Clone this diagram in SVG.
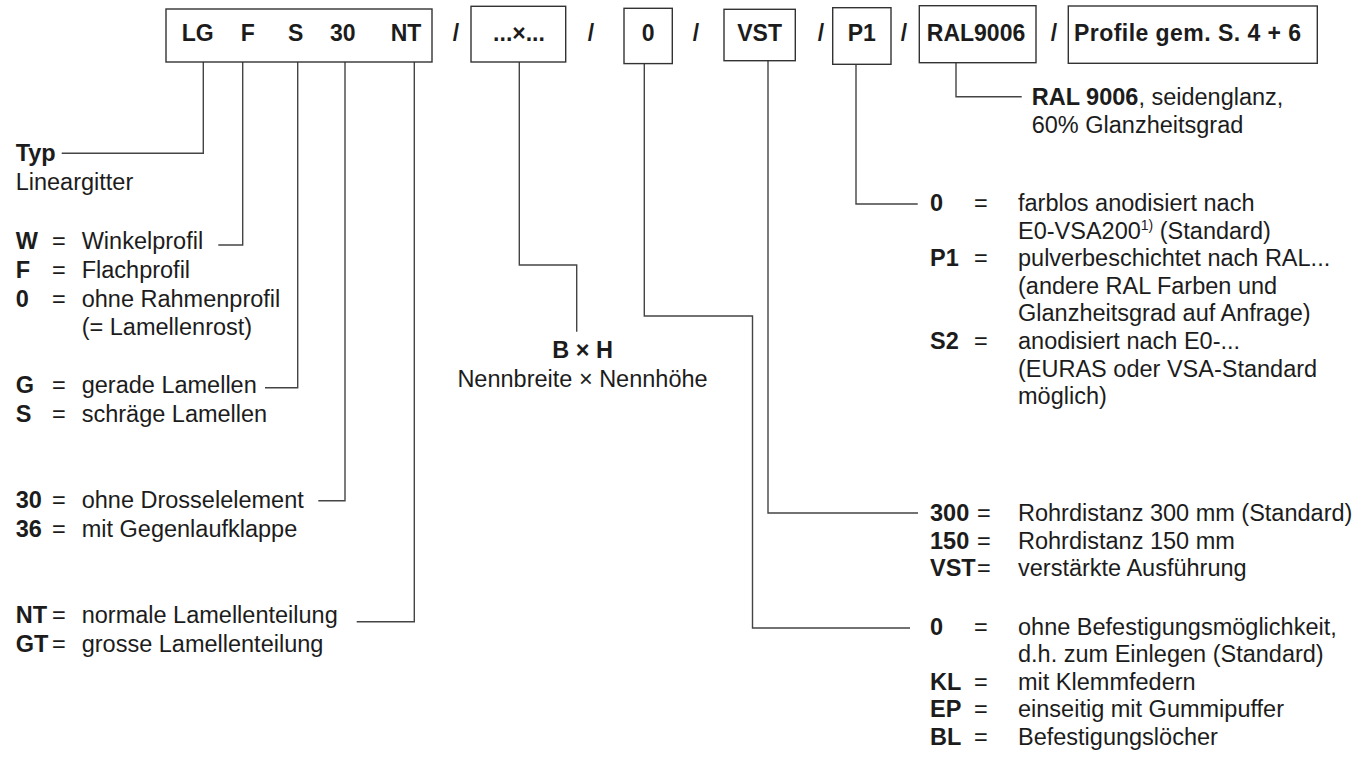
<svg xmlns="http://www.w3.org/2000/svg" width="1371" height="758" viewBox="0 0 1371 758">
<style>
text{font-family:"Liberation Sans",Arial,Helvetica,sans-serif;fill:#1c1c1c;font-size:23.5px}
.b{font-weight:bold}
.bx{font-weight:bold;font-size:23px}
.m{text-anchor:middle}
.box{fill:#fff;stroke:#333;stroke-width:1.4}
.c{fill:none;stroke:#444;stroke-width:1.4}
.sup{font-size:14px}
</style>
<rect width="1371" height="758" fill="#fff"/>
<g id="connectors">
<path class="c" d="M203.3,62 V153.3 H61.7"/>
<path class="c" d="M242.7,62 V245 H218.3"/>
<path class="c" d="M297.7,62 V387.7 H265"/>
<path class="c" d="M345,62 V500.7 H318.3"/>
<path class="c" d="M414.3,62 V621.7 H356.7"/>
<path class="c" d="M519.3,62 V265 H576.7 V331.7"/>
<path class="c" d="M644.3,63.6 V316 H752.5 V628 H910"/>
<path class="c" d="M768,60.7 V513 H918"/>
<path class="c" d="M856,64.3 V204 H917.7"/>
<path class="c" d="M956,62.7 V96.7 H1021.7"/>
</g>
<g id="box-type">
<rect class="box" x="166" y="9" width="266" height="53"/>
<text class="bx" x="181.7" y="40.5">LG</text>
<text class="bx" x="240.7" y="40.5">F</text>
<text class="bx" x="288" y="40.5">S</text>
<text class="bx" x="330" y="40.5">30</text>
<text class="bx" x="390.7" y="40.5">NT</text>
</g>
<g id="slashes">
<text class="bx m" x="456" y="40.5">/</text>
<text class="bx m" x="591" y="40.5">/</text>
<text class="bx m" x="696" y="40.5">/</text>
<text class="bx m" x="821" y="40.5">/</text>
<text class="bx m" x="904" y="40.5">/</text>
<text class="bx m" x="1054" y="40.5">/</text>
</g>
<g id="box-size">
<rect class="box" x="471" y="6.3" width="94.7" height="55.7"/>
<text class="bx m" x="519" y="40.5">...×...</text>
</g>
<g id="box-fix">
<rect class="box" x="624" y="8.3" width="48.3" height="55.3"/>
<text class="bx m" x="648.2" y="40.5">0</text>
</g>
<g id="box-vst">
<rect class="box" x="724" y="9.3" width="71.3" height="51.4"/>
<text class="bx m" x="759.6" y="40.5">VST</text>
</g>
<g id="box-p1">
<rect class="box" x="832.7" y="7.7" width="58.3" height="56.6"/>
<text class="bx m" x="861.8" y="40.5">P1</text>
</g>
<g id="box-ral">
<rect class="box" x="919.3" y="5.7" width="116.7" height="57"/>
<text class="bx m" x="976" y="40.5">RAL9006</text>
</g>
<g id="box-profile">
<rect class="box" x="1068.3" y="6" width="249" height="57.3"/>
<text class="bx" x="1074" y="40.5" textLength="227" lengthAdjust="spacing">Profile gem. S. 4 + 6</text>
</g>
<g id="legend-type">
<text class="b" x="15.7" y="161">Typ</text>
<text x="15.7" y="190">Lineargitter</text>
</g>
<g id="legend-frame">
<text class="b" x="15.7" y="249.3">W</text><text x="52" y="249.3">=</text><text x="81.7" y="249.3">Winkelprofil</text>
<text class="b" x="15.7" y="278.3">F</text><text x="52" y="278.3">=</text><text x="81.7" y="278.3">Flachprofil</text>
<text class="b" x="15.7" y="306.7">0</text><text x="52" y="306.7">=</text><text x="81.7" y="306.7">ohne Rahmenprofil</text>
<text x="81.7" y="335.3">(= Lamellenrost)</text>
</g>
<g id="legend-blades">
<text class="b" x="15.7" y="393.3">G</text><text x="52" y="393.3">=</text><text x="81.7" y="393.3">gerade Lamellen</text>
<text class="b" x="15.7" y="422.3">S</text><text x="52" y="422.3">=</text><text x="81.7" y="422.3">schräge Lamellen</text>
</g>
<g id="legend-damper">
<text class="b" x="15.7" y="508.3">30</text><text x="52" y="508.3">=</text><text x="81.7" y="508.3">ohne Drosselelement</text>
<text class="b" x="15.7" y="536.7">36</text><text x="52" y="536.7">=</text><text x="81.7" y="536.7">mit Gegenlaufklappe</text>
</g>
<g id="legend-pitch">
<text class="b" x="15.7" y="623.3">NT</text><text x="52" y="623.3">=</text><text x="81.7" y="623.3">normale Lamellenteilung</text>
<text class="b" x="15.7" y="652.3">GT</text><text x="52" y="652.3">=</text><text x="81.7" y="652.3">grosse Lamellenteilung</text>
</g>
<g id="legend-size">
<text class="b m" x="582.5" y="358.3">B × H</text>
<text class="m" x="582.5" y="386.7">Nennbreite × Nennhöhe</text>
</g>
<g id="legend-ral">
<text x="1031.7" y="105"><tspan class="b">RAL 9006</tspan>, seidenglanz,</text>
<text x="1031.7" y="133">60% Glanzheitsgrad</text>
</g>
<g id="legend-surface">
<text class="b" x="930" y="211">0</text><text x="974" y="211">=</text><text x="1018" y="211">farblos anodisiert nach</text>
<text x="1018" y="238.6">E0-VSA200<tspan class="sup" dy="-9">1)</tspan><tspan dy="9"> (Standard)</tspan></text>
<text class="b" x="930" y="266.2">P1</text><text x="974" y="266.2">=</text><text x="1018" y="266.2">pulverbeschichtet nach RAL...</text>
<text x="1018" y="293.8">(andere RAL Farben und</text>
<text x="1018" y="321.4">Glanzheitsgrad auf Anfrage)</text>
<text class="b" x="930" y="349">S2</text><text x="974" y="349">=</text><text x="1018" y="349">anodisiert nach E0-...</text>
<text x="1018" y="376.6">(EURAS oder VSA-Standard</text>
<text x="1018" y="404.2">möglich)</text>
</g>
<g id="legend-tube">
<text class="b" x="930" y="521">300</text><text x="977" y="521">=</text><text x="1018" y="521">Rohrdistanz 300 mm (Standard)</text>
<text class="b" x="930" y="548.6">150</text><text x="977" y="548.6">=</text><text x="1018" y="548.6">Rohrdistanz 150 mm</text>
<text class="b" x="930" y="576.2">VST</text><text x="977" y="576.2">=</text><text x="1018" y="576.2">verstärkte Ausführung</text>
</g>
<g id="legend-fixing">
<text class="b" x="930" y="634.6">0</text><text x="974" y="634.6">=</text><text x="1018" y="634.6">ohne Befestigungsmöglichkeit,</text>
<text x="1018" y="662.2">d.h. zum Einlegen (Standard)</text>
<text class="b" x="930" y="689.8">KL</text><text x="974" y="689.8">=</text><text x="1018" y="689.8">mit Klemmfedern</text>
<text class="b" x="930" y="717.4">EP</text><text x="974" y="717.4">=</text><text x="1018" y="717.4">einseitig mit Gummipuffer</text>
<text class="b" x="930" y="745">BL</text><text x="974" y="745">=</text><text x="1018" y="745">Befestigungslöcher</text>
</g>
</svg>
